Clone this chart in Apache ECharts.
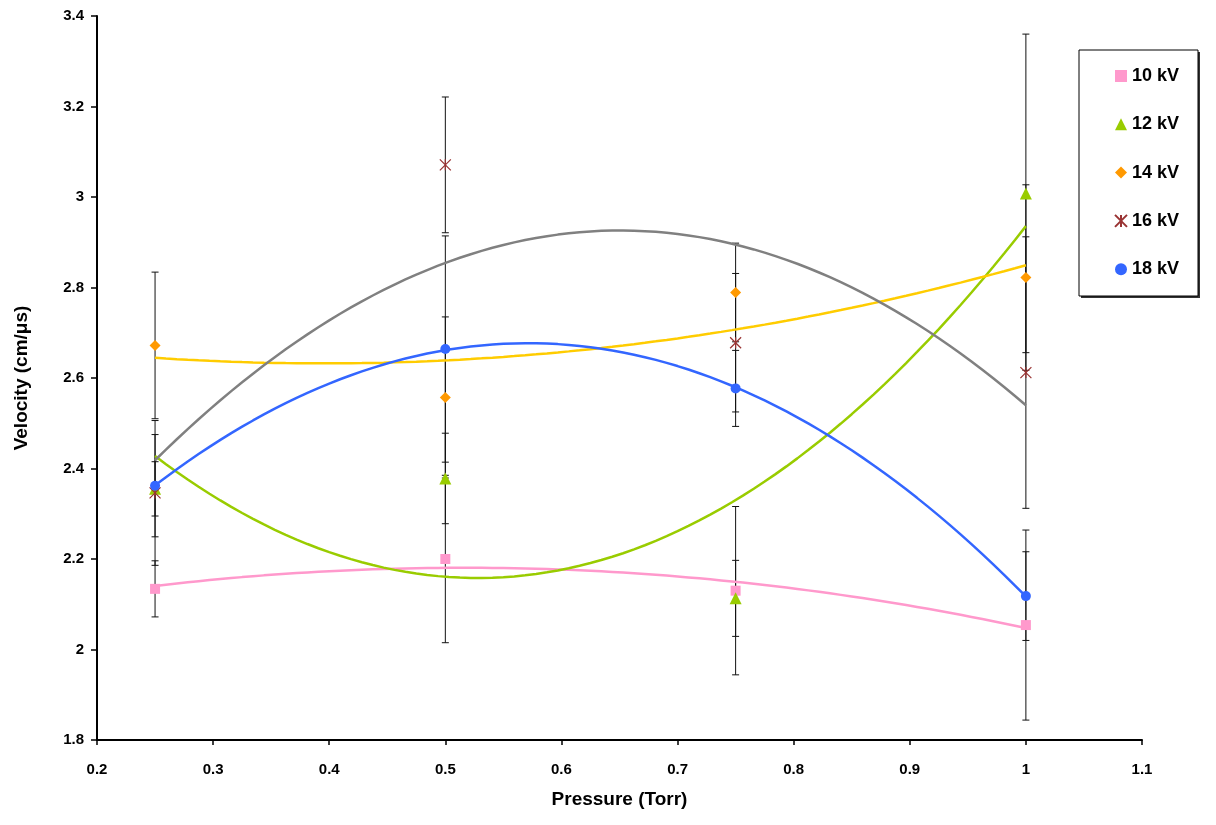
<!DOCTYPE html>
<html>
<head>
<meta charset="utf-8">
<script src="https://cdn.jsdelivr.net/npm/echarts@6/dist/echarts.min.js"></script>
<style>
html,body{margin:0;padding:0;background:#fff;}
#chart{width:1216px;height:825px;}
</style>
</head>
<body>
<div id="chart"></div>
<script>
// ---- data ----
var pressure = [0.25, 0.5, 0.75, 1.0];
var seriesNames = ['10 kV', '12 kV', '14 kV', '16 kV', '18 kV'];
var v10 = [2.134, 2.200, 2.130, 2.054];
var v12 = [2.355, 2.378, 2.113, 3.008];
var v14 = [2.672, 2.557, 2.789, 2.822];
var v16 = [2.346, 3.071, 2.678, 2.612];
var v18 = [2.362, 2.664, 2.577, 2.118];
var e10 = [0.062, 0.185, 0.186, 0.21];
var e12 = [0.06, 0.10, 0.084, 0.352];
var e14 = [0.162, 0.178, 0.109, 0.205];
var e16 = [0.16, 0.15, 0.153, 0.30];
var e18 = [0.113, 0.25, 0.084, 0.098];
var xTicks = [0.2, 0.3, 0.4, 0.5, 0.6, 0.7, 0.8, 0.9, 1.0, 1.1];
var yTicks = [1.8, 2.0, 2.2, 2.4, 2.6, 2.8, 3.0, 3.2, 3.4];

var values = [v10, v12, v14, v16, v18];
var errors = [e10, e12, e14, e16, e18];
var markerColors = ['#FF99CC', '#99CC00', '#FF9900', '#993333', '#3366FF'];
var trendColors = ['#FF99CC', '#99CC00', '#FFCC00', '#808080', '#3366FF'];
var starPath = 'path://M0,0L10,10M10,0L0,10M5,0L5,10';
var symbols = ['rect', 'triangle', 'diamond', starPath, 'circle'];
var symbolSizes = [10, 12, 11, 11, 10];

// least squares 2nd-order polynomial trendline (as in the spreadsheet)
function quadFit(xs, ys) {
  var S = [0,0,0,0,0], T = [0,0,0];
  for (var i = 0; i < xs.length; i++) {
    var p = 1;
    for (var k = 0; k < 5; k++) { S[k] += p; if (k < 3) T[k] += p * ys[i]; p *= xs[i]; }
  }
  var A = [[S[0],S[1],S[2],T[0]],[S[1],S[2],S[3],T[1]],[S[2],S[3],S[4],T[2]]];
  for (var c = 0; c < 3; c++) {
    for (var r = c + 1; r < 3; r++) {
      var f = A[r][c] / A[c][c];
      for (var j = c; j < 4; j++) A[r][j] -= f * A[c][j];
    }
  }
  var b = [0,0,0];
  for (var r2 = 2; r2 >= 0; r2--) {
    var s = A[r2][3];
    for (var j2 = r2 + 1; j2 < 3; j2++) s -= A[r2][j2] * b[j2];
    b[r2] = s / A[r2][r2];
  }
  return b;
}
function trendData(xs, ys) {
  var b = quadFit(xs, ys), out = [];
  var x0 = xs[0], x1 = xs[xs.length - 1], n = 80;
  for (var i = 0; i <= n; i++) {
    var x = x0 + (x1 - x0) * i / n;
    out.push([x, b[0] + b[1] * x + b[2] * x * x]);
  }
  return out;
}

var series = [];
// error bars
values.forEach(function (vals, si) {
  var d = pressure.map(function (x, i) { return [x, vals[i] - errors[si][i], vals[i] + errors[si][i]]; });
  series.push({
    name: seriesNames[si] + ' err',
    type: 'custom',
    z: 1,
    silent: true,
    data: d,
    renderItem: function (params, api) {
      var x = api.value(0);
      var lo = api.coord([x, api.value(1)]);
      var hi = api.coord([x, api.value(2)]);
      var w = 3.5;
      var st = { stroke: '#111', lineWidth: 1 };
      return {
        type: 'group',
        children: [
          { type: 'line', shape: { x1: lo[0], y1: lo[1], x2: hi[0], y2: hi[1] }, style: st },
          { type: 'line', shape: { x1: lo[0] - w, y1: lo[1], x2: lo[0] + w, y2: lo[1] }, style: st },
          { type: 'line', shape: { x1: hi[0] - w, y1: hi[1], x2: hi[0] + w, y2: hi[1] }, style: st }
        ]
      };
    }
  });
});
// trendlines
values.forEach(function (vals, si) {
  series.push({
    name: seriesNames[si] + ' trend',
    type: 'line',
    z: 2,
    silent: true,
    showSymbol: false,
    symbol: 'none',
    smooth: false,
    data: trendData(pressure, vals),
    lineStyle: { color: trendColors[si], width: 2.5 }
  });
});
// markers
values.forEach(function (vals, si) {
  var isStar = si === 3;
  series.push({
    name: seriesNames[si],
    type: 'scatter',
    z: 3,
    symbol: symbols[si],
    symbolSize: symbolSizes[si],
    data: pressure.map(function (x, i) { return [x, vals[i]]; }),
    itemStyle: isStar ? { color: 'rgba(0,0,0,0)', borderColor: markerColors[si], borderWidth: 1.2, opacity: 1 }
                      : { color: markerColors[si], opacity: 1 }
  });
});

var chart = echarts.init(document.getElementById('chart'), null, { renderer: 'canvas' });
var fontFam = '"Liberation Sans", Arial, sans-serif';
chart.setOption({
  backgroundColor: '#fff',
  animation: false,
  graphic: [
    { type: 'rect', z: 0, shape: { x: 1081, y: 52, width: 119, height: 246 }, style: { fill: '#333' } },
    { type: 'rect', z: 0, shape: { x: 1079, y: 50, width: 119, height: 246 }, style: { fill: '#fff', stroke: '#000', lineWidth: 1 } }
  ],
  grid: { left: 97, top: 16, width: 1045, height: 724, containLabel: false },
  legend: {
    data: seriesNames,
    orient: 'vertical',
    left: 1114,
    top: 67,
    padding: 0,
    itemGap: 30.3,
    itemWidth: 12,
    itemHeight: 12,
    z: 5,
    textStyle: { fontFamily: fontFam, fontWeight: 'bold', fontSize: 18, color: '#000', lineHeight: 14 }
  },
  xAxis: {
    type: 'value',
    min: xTicks[0],
    max: xTicks[xTicks.length - 1],
    interval: 0.1,
    name: 'Pressure (Torr)',
    nameLocation: 'middle',
    nameGap: 50,
    nameTextStyle: { fontFamily: fontFam, fontWeight: 'bold', fontSize: 19, color: '#000' },
    axisLine: { show: true, onZero: false, lineStyle: { color: '#000', width: 2 } },
    axisTick: { show: true, inside: false, length: 5, lineStyle: { color: '#000', width: 1.5 } },
    axisLabel: { margin: 22, fontFamily: fontFam, fontWeight: 'bold', fontSize: 15, color: '#000',
      formatter: function (v) { return String(Math.round(v * 10) / 10); } },
    splitLine: { show: false }
  },
  yAxis: {
    type: 'value',
    min: yTicks[0],
    max: yTicks[yTicks.length - 1],
    interval: 0.2,
    name: 'Velocity (cm/μs)',
    nameLocation: 'middle',
    nameGap: 66,
    nameRotate: 90,
    nameTextStyle: { fontFamily: fontFam, fontWeight: 'bold', fontSize: 19, color: '#000' },
    axisLine: { show: true, onZero: false, lineStyle: { color: '#000', width: 2 } },
    axisTick: { show: true, inside: false, length: 6, lineStyle: { color: '#000', width: 1.5 } },
    axisLabel: { margin: 13, fontFamily: fontFam, fontWeight: 'bold', fontSize: 15, color: '#000',
      formatter: function (v) { return String(Math.round(v * 10) / 10); } },
    splitLine: { show: false }
  },
  series: series
});
</script>
</body>
</html>
